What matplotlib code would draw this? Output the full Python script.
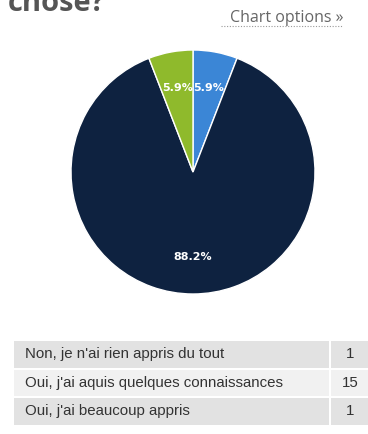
import matplotlib
matplotlib.use("Agg")
import matplotlib.pyplot as plt
from matplotlib.patches import Rectangle

# survey answers and counts
answers = ["Non, je n'ai rien appris du tout",
           "Oui, j'ai aquis quelques connaissances",
           "Oui, j'ai beaucoup appris"]
counts = [1, 15, 1]
colors = ["#3b86d6", "#0e2240", "#8fba2c"]

W, H = 368, 434
fig = plt.figure(figsize=(W / 100, H / 100), dpi=100)
fig.patch.set_facecolor("white")

def fx(px):
    return px / W

def fy(py):
    return 1 - py / H

# title, cut off by the top edge
fig.text(fx(8), fy(11), "chose?", fontsize=21, fontweight="bold",
         color="#555555", family="Open Sans", va="baseline")

fig.text(fx(343), fy(22), "Chart options »", fontsize=11.5, color="#666666",
         family="Open Sans", ha="right", va="baseline")
fig.add_artist(plt.Line2D([fx(221), fx(343)], [fy(26), fy(26)],
                          color="#999999", lw=0.8, ls=(0, (1, 1.5))))

# pie
cx, cy, r = 193, 172, 122
ax = fig.add_axes([fx(cx - r), fy(cy + r), fx(2 * r), 2 * r / H])
wedges, _, autotexts = ax.pie(
    counts, colors=colors, startangle=90, counterclock=False,
    autopct="%.1f%%", pctdistance=0.7,
    wedgeprops=dict(edgecolor="white", linewidth=1),
    textprops=dict(color="white", fontsize=8, fontweight="bold",
                   family="DejaVu Sans"))
ax.set_aspect("equal")
ax.set_xlim(-1, 1)
ax.set_ylim(-1, 1)
ax.axis("off")

# table of counts
top, row_h = 340, 28.5
x0, xsplit, x1 = 14, 330, 368
row_bg = ["#e2e2e2", "#f1f1f1", "#e2e2e2"]
for i, (label, n) in enumerate(zip(answers, counts)):
    y_top = top + i * row_h
    for (a, b) in [(x0, xsplit - 1), (xsplit + 1, x1)]:
        fig.add_artist(Rectangle((fx(a), fy(y_top + row_h - 1)),
                                 fx(b - a), (row_h - 2) / H,
                                 facecolor=row_bg[i], edgecolor="none"))
    fig.text(fx(25), fy(y_top + row_h / 2), label, fontsize=10.8,
             color="#333333", family="Liberation Sans", va="center")
    fig.text(fx(350), fy(y_top + row_h / 2), str(n), fontsize=10.8,
             color="#333333", family="Liberation Sans", va="center", ha="center")

fig.savefig("out.png", dpi=100)
